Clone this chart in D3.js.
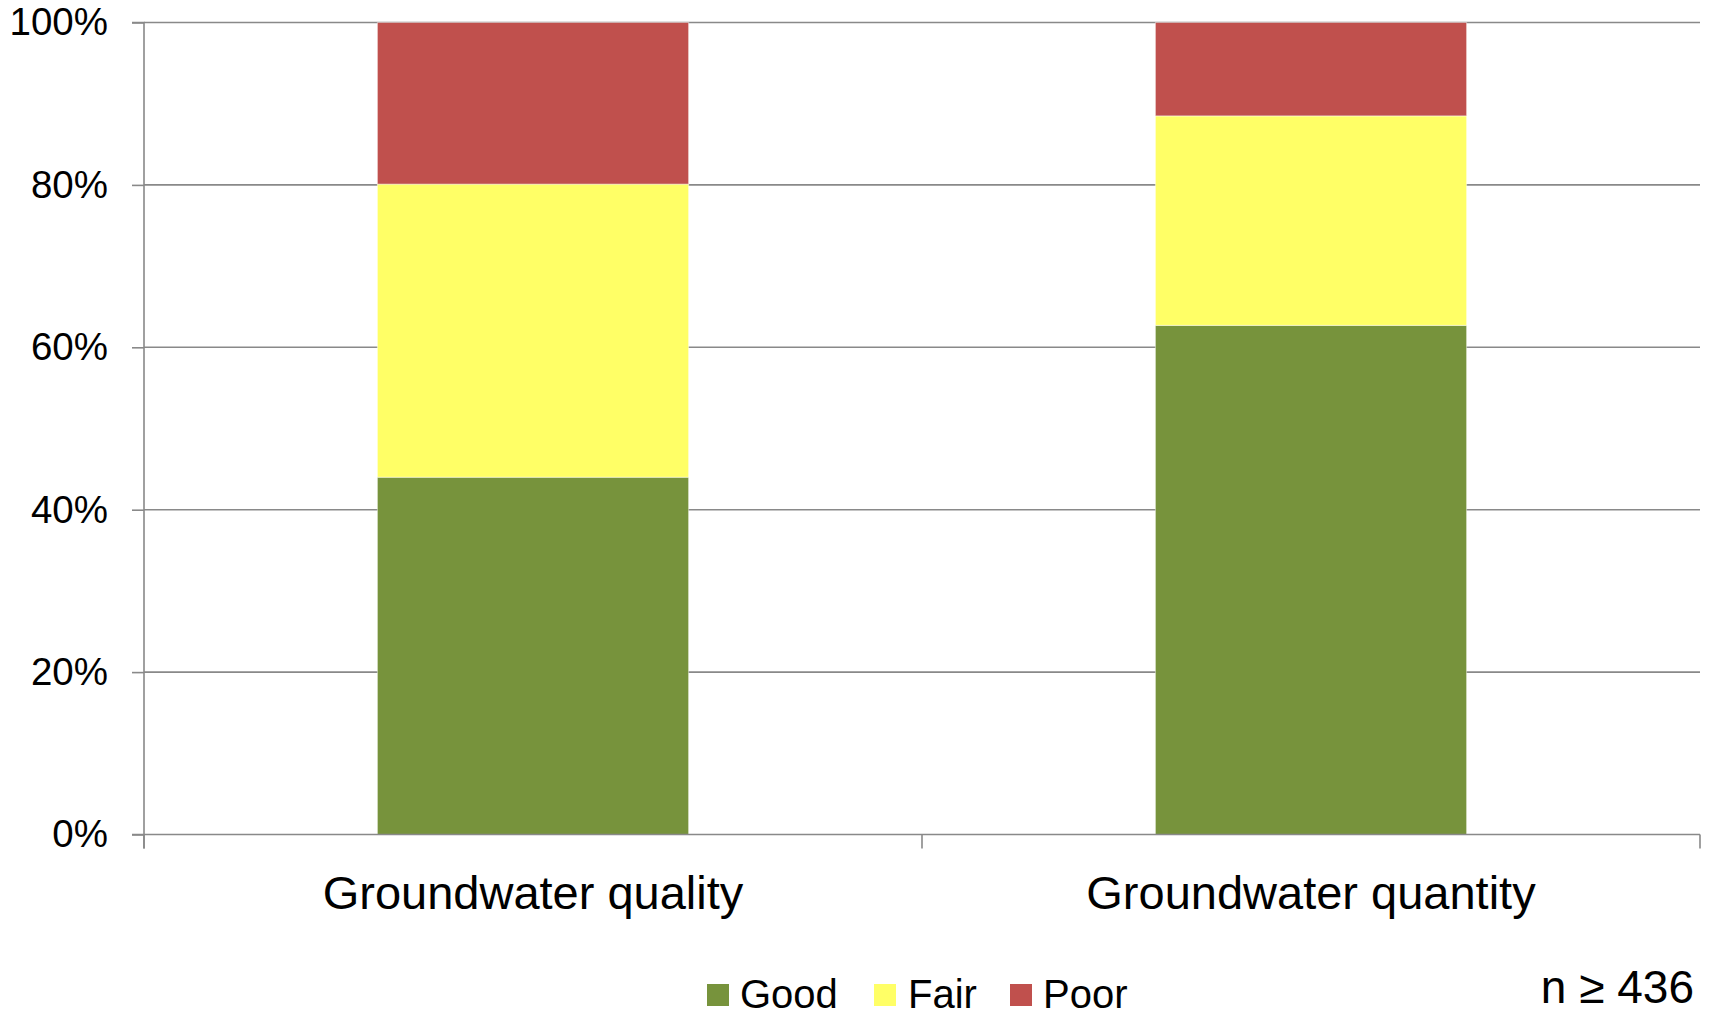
<!DOCTYPE html>
<html>
<head>
<meta charset="utf-8">
<script src="https://cdn.jsdelivr.net/npm/d3@7"></script>
<style>
  html, body { margin: 0; padding: 0; background: #fff; }
  svg { display: block; }
  text { font-family: "Liberation Sans", Arial, sans-serif; fill: #000; }
</style>
</head>
<body>
<svg id="chart" width="1710" height="1017"></svg>
<script>
const categories = ["Groundwater quality", "Groundwater quantity"];
const seriesNames = ["Good", "Fair", "Poor"];
const good = [44.0, 62.7];
const fair = [36.1, 25.8];
const poor = [19.9, 11.5];
const colors = ["#77933C", "#FFFF66", "#C0504D"];
const yTicks = [0, 20, 40, 60, 80, 100];
const noteText = "n \u2265 436";

const svg = d3.select("#chart");
const margin = { left: 144, right: 10, top: 22.5, bottom: 182.5 };
const W = 1710, H = 1017;
const x0 = margin.left, x1 = W - margin.right;
const yTop = margin.top, yBot = H - margin.bottom;

const x = d3.scaleBand().domain(categories).range([x0, x1]).paddingInner(0.6).paddingOuter(0.3);
const xOuter = d3.scaleBand().domain(categories).range([x0, x1]).padding(0);
const y = d3.scaleLinear().domain([0, 100]).range([yBot, yTop]);

// gridlines
svg.append("g").selectAll("line").data(yTicks.filter(d => d > 0)).join("line")
  .attr("x1", x0).attr("x2", x1)
  .attr("y1", d => y(d)).attr("y2", d => y(d))
  .attr("stroke", "#898989").attr("stroke-width", 1.6);

// stacked data
const rows = categories.map((c, i) => ({ cat: c, Good: good[i], Fair: fair[i], Poor: poor[i] }));
const stack = d3.stack().keys(seriesNames)(rows);

svg.append("g").selectAll("g").data(stack).join("g")
  .attr("fill", (d, i) => colors[i])
  .selectAll("rect").data(d => d).join("rect")
  .attr("x", d => x(d.data.cat))
  .attr("width", x.bandwidth())
  .attr("y", d => y(d[1]))
  .attr("height", d => y(d[0]) - y(d[1]))
  .attr("stroke", "rgba(255,255,255,0.45)")
  .attr("stroke-width", 1);

// y axis
const yAxis = d3.axisLeft(y).tickValues(yTicks).tickFormat(d => d + "%").tickSize(12).tickPadding(24);
const gy = svg.append("g").attr("transform", `translate(${x0},0)`).call(yAxis);
gy.select(".domain").attr("stroke", "#898989").attr("stroke-width", 1.6).attr("d", `M-12,${yTop}H0V${yBot + 14}`);
gy.selectAll(".tick line").attr("stroke", "#898989").attr("stroke-width", 1.6);
gy.selectAll(".tick text").attr("font-size", 38.5).attr("font-family", "Liberation Sans, Arial, sans-serif").attr("fill", "#000");

// x axis
const gx = svg.append("g").attr("transform", `translate(0,${yBot})`);
gx.append("line").attr("x1", x0 - 12).attr("x2", x1).attr("y1", 0).attr("y2", 0)
  .attr("stroke", "#898989").attr("stroke-width", 1.6);
const xTickPos = [x0].concat(categories.map(c => xOuter(c) + xOuter.bandwidth()));
gx.selectAll("line.t").data(xTickPos).join("line").attr("class", "t")
  .attr("x1", d => d).attr("x2", d => d).attr("y1", 0).attr("y2", 14)
  .attr("stroke", "#898989").attr("stroke-width", 1.6);
gx.selectAll("text").data(categories).join("text")
  .attr("x", d => x(d) + x.bandwidth() / 2)
  .attr("y", 74)
  .attr("text-anchor", "middle")
  .attr("font-size", 47)
  .text(d => d);

// legend
const legendItems = [
  { name: "Good", sx: 707, tx: 740 },
  { name: "Fair", sx: 874, tx: 908 },
  { name: "Poor", sx: 1010, tx: 1043 }
];
const lg = svg.append("g");
legendItems.forEach((it, i) => {
  lg.append("rect").attr("x", it.sx).attr("y", 984).attr("width", 22).attr("height", 22).attr("fill", colors[i]);
  lg.append("text").attr("x", it.tx).attr("y", 1008).attr("font-size", 40).text(seriesNames[i]);
});

// note
svg.append("text").attr("x", 1694).attr("y", 1003).attr("text-anchor", "end")
  .attr("font-size", 46).text(noteText);
</script>
</body>
</html>
